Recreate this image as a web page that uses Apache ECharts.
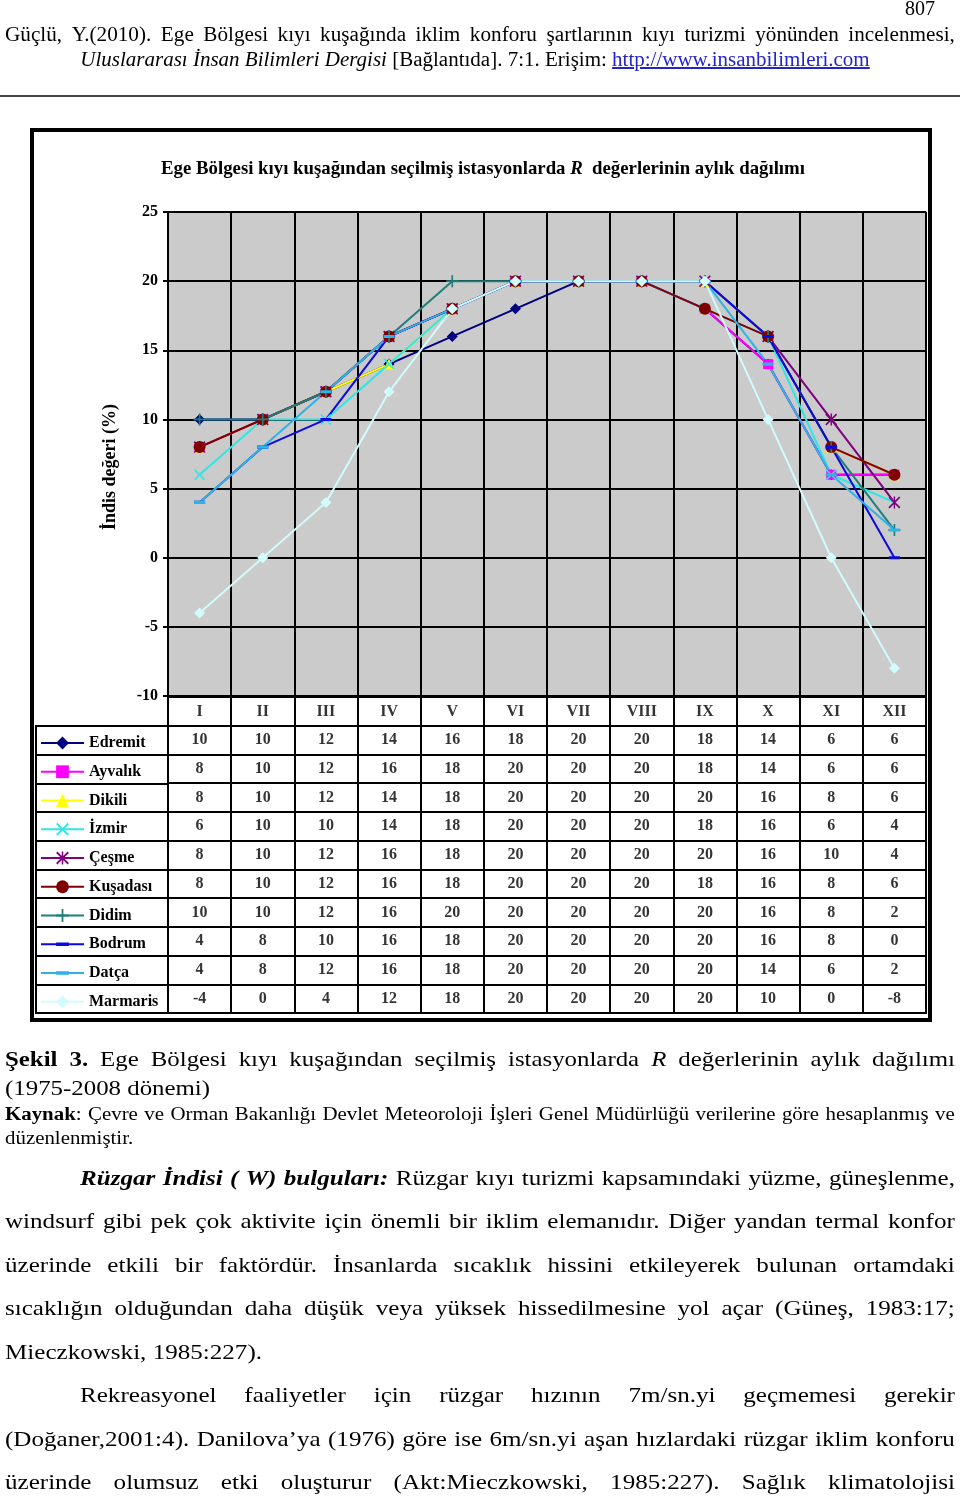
<!DOCTYPE html>
<html><head><meta charset="utf-8">
<script src="https://cdn.jsdelivr.net/npm/echarts@6/dist/echarts.min.js"></script>
<style>
html,body{margin:0;padding:0}
body{width:960px;height:1496px;position:relative;background:#fff;overflow:hidden;font-family:"Liberation Serif","Times New Roman",serif;color:#000}
#chart{position:absolute;left:0;top:0;width:960px;height:1496px}
.ln{position:absolute;left:5px;width:950px;white-space:nowrap;z-index:2;transform-origin:0 50%}
.jl{display:flex;justify-content:space-between}
a{color:#2424c8;text-decoration:underline}
</style></head>
<body>
<div id="chart"></div>
<div id="txt"></div>
<script>
// ---------- data ----------
const months = ['I','II','III','IV','V','VI','VII','VIII','IX','X','XI','XII'];
const stations = ['Edremit','Ayvalık','Dikili','İzmir','Çeşme','Kuşadası','Didim','Bodrum','Datça','Marmaris'];
const edremit  = [10,10,12,14,16,18,20,20,18,14,6,6];
const ayvalik  = [8,10,12,16,18,20,20,20,18,14,6,6];
const dikili   = [8,10,12,14,18,20,20,20,20,16,8,6];
const izmir    = [6,10,10,14,18,20,20,20,18,16,6,4];
const cesme    = [8,10,12,16,18,20,20,20,20,16,10,4];
const kusadasi = [8,10,12,16,18,20,20,20,18,16,8,6];
const didim    = [10,10,12,16,20,20,20,20,20,16,8,2];
const bodrum   = [4,8,10,16,18,20,20,20,20,16,8,0];
const datca    = [4,8,12,16,18,20,20,20,20,14,6,2];
const marmaris = [-4,0,4,12,18,20,20,20,20,10,0,-8];
const yMin = -10, yMax = 25, yStep = 5;
const chartTitle = 'Ege Bölgesi kıyı kuşağından seçilmiş istasyonlarda ';
const chartTitleR = 'R';
const chartTitleEnd = '  değerlerinin aylık dağılımı';
const yTitle = 'İndis değeri (%)';

// ---------- styles ----------
const values = [edremit, ayvalik, dikili, izmir, cesme, kusadasi, didim, bodrum, datca, marmaris];
const colors = ['#000080','#FF00FF','#FFFF00','#2EE6E6','#800080','#800000','#1F7F7A','#0A0AE0','#2DB3E6','#D2FBFB'];
const P_X = 'path://M1,0 L5,4 L9,0 L10,1 L6,5 L10,9 L9,10 L5,6 L1,10 L0,9 L4,5 L0,1 Z';
const P_STAR = 'path://M1,0 L5,4 L9,0 L10,1 L6,5 L10,9 L9,10 L5,6 L1,10 L0,9 L4,5 L0,1 Z M4.4,0 H5.6 V10 H4.4 Z';
const P_PLUS = 'path://M4.3,0 H5.7 V4.3 H10 V5.7 H5.7 V10 H4.3 V5.7 H0 V4.3 H4.3 Z';
const P_DASH = 'path://M0,0 L0.01,0 L0,0.01 Z M10,10 L9.99,10 L10,9.99 Z M0,3.6 H10 V6.4 H0 Z';
const symbols = ['diamond','rect','triangle',P_X,P_STAR,'circle',P_PLUS,P_DASH,P_DASH,'diamond'];
const symSizes = [11,10,11,11,12,12,12,11,11,11];
const FONT = '"Liberation Serif","Times New Roman",serif';

const lineSeries = stations.map((s,i)=>({
  name: s, type:'line', xAxisIndex:0, yAxisIndex:0,
  data: values[i], symbol: symbols[i], symbolSize: symSizes[i],
  showAllSymbol: true,
  itemStyle:{color: colors[i]},
  lineStyle:{color: colors[i], width:2},
  emphasis:{disabled:true}, animation:false
}));

const cellData = [];
stations.forEach((s,i)=>values[i].forEach((v,m)=>cellData.push([months[m], s, v])));
const headData = months.map(m=>[m,'hdr',m]);

const cellLabel = {show:true, position:'inside', color:'#000', fontFamily:FONT, fontWeight:'bold', fontSize:16,
  formatter: p=>String(p.value[2])};

const option = {
  animation:false,
  backgroundColor:'transparent',
  grid:[
    {left:168, top:212, width:758, height:484, show:true, backgroundColor:'#CBCBCB', borderColor:'#8a8a8a', borderWidth:1.5, containLabel:false},
    {left:168, top:697, width:758, height:316, show:true, backgroundColor:'#fff', borderColor:'#000', borderWidth:2},
    {left:36, top:726, width:132, height:287, show:true, backgroundColor:'#fff', borderColor:'#000', borderWidth:2}
  ],
  xAxis:[
    {type:'category', gridIndex:0, data:months, boundaryGap:true,
     axisLabel:{show:false}, axisTick:{show:false},
     axisLine:{show:true, lineStyle:{color:'#000', width:2}},
     splitLine:{show:true, interval:0, lineStyle:{color:'#000', width:2}}},
    {type:'category', gridIndex:1, data:months, boundaryGap:true,
     axisLabel:{show:false}, axisTick:{show:false}, axisLine:{show:false},
     splitLine:{show:true, interval:0, lineStyle:{color:'#000', width:2}}},
    {type:'category', gridIndex:2, data:['c'], boundaryGap:true, show:false}
  ],
  yAxis:[
    {type:'value', gridIndex:0, min:yMin, max:yMax, interval:yStep,
     axisLine:{show:true, lineStyle:{color:'#000', width:2}},
     axisTick:{show:true, length:5, lineStyle:{color:'#000', width:2}},
     axisLabel:{color:'#000', fontFamily:FONT, fontWeight:'bold', fontSize:16, margin:10},
     splitLine:{show:true, lineStyle:{color:'#000', width:2}}},
    {type:'category', gridIndex:1, data:['hdr'].concat(stations), inverse:true, boundaryGap:true,
     axisLabel:{show:false}, axisTick:{show:false}, axisLine:{show:false},
     splitLine:{show:true, interval:0, lineStyle:{color:'#000', width:2}}},
    {type:'category', gridIndex:2, data:stations, inverse:true, boundaryGap:true,
     axisLabel:{show:false}, axisTick:{show:false}, axisLine:{show:false},
     splitLine:{show:true, interval:0, lineStyle:{color:'#000', width:2}}}
  ],
  legend:{
    data:stations, orient:'vertical', left:35, top:730, padding:5,
    itemWidth:43, itemHeight:16, itemGap:12.75, selectedMode:false,
    textStyle:{color:'#000', fontFamily:FONT, fontWeight:'bold', fontSize:16, lineHeight:16}
  },
  series: lineSeries.concat([
    {type:'scatter', xAxisIndex:1, yAxisIndex:1, data:cellData, symbolSize:0, silent:true, label:cellLabel, animation:false},
    {type:'scatter', xAxisIndex:1, yAxisIndex:1, data:headData, symbolSize:0, silent:true, label:cellLabel, animation:false}
  ]),
  graphic:[
    {type:'rect', shape:{x:32, y:130, width:898, height:890}, style:{fill:'none', stroke:'#000', lineWidth:4}, silent:true, z:-1},
    {type:'text', x:483, y:169, silent:true,
     style:{text:'{b|'+chartTitle+'}{i|'+chartTitleR+'}{b|'+chartTitleEnd+'}', align:'center', verticalAlign:'middle',
       rich:{b:{fontFamily:FONT, fontWeight:'bold', fontSize:18.8, fill:'#000'},
             i:{fontFamily:FONT, fontWeight:'bold', fontStyle:'italic', fontSize:18.8, fill:'#000'}}}},
    {type:'text', x:110, y:467, rotation:Math.PI/2, silent:true,
     style:{text:yTitle, align:'center', verticalAlign:'middle', fontFamily:FONT, fontWeight:'bold', fontSize:18, fill:'#000'}}
  ]
};
const chart = echarts.init(document.getElementById('chart'), null, {renderer:'canvas'});
chart.setOption(option);

// ---------- page text ----------
const txt = document.getElementById('txt');
function mk(y, h, fs, cls, k, left, width){
  k = k || 1; left = (left==null) ? 5 : left; width = (width==null) ? 950 : width;
  const d = document.createElement('div');
  d.className = 'ln' + (cls ? ' '+cls : '');
  d.style.top = (y - h/2) + 'px'; d.style.height = h+'px'; d.style.lineHeight = h+'px'; d.style.fontSize = fs+'px';
  d.style.left = left + 'px'; d.style.width = (width / k) + 'px';
  if (k !== 1) d.style.transform = 'scaleX(' + k + ')';
  txt.appendChild(d); return d;
}
function addSegs(el, segs){
  segs.forEach(([t,st])=>{const s=document.createElement('span'); s.textContent=t; if(st) s.style.cssText=st; el.appendChild(s);});
}
function jline(y, h, fs, k, segs, indent){
  indent = indent || 0;
  const d = mk(y, h, fs, 'jl', k, 5+indent, 950-indent);
  const words=[]; let cur=null;
  segs.forEach(([t,st])=>{
    t.split(' ').forEach((p,i)=>{
      if(i>0){ if(cur&&cur.length) words.push(cur); cur=null; }
      if(p.length){ if(!cur) cur=[]; cur.push([p,st]); }
    });
  });
  if(cur&&cur.length) words.push(cur);
  words.forEach(w=>{const s=document.createElement('span'); addSegs(s,w); d.appendChild(s);});
  return d;
}
function pline(y, h, fs, k, segs, indent){
  indent = indent || 0;
  const d = mk(y, h, fs, '', k, 5+indent, 950-indent);
  addSegs(d, segs); return d;
}
const B='font-weight:bold', I='font-style:italic', BI='font-weight:bold;font-style:italic';

// header
const pn = mk(8, 22, 20, '', 1, 880, 55); pn.style.textAlign='right'; pn.textContent='807';
jline(34, 24, 20, 1.06, [['Güçlü, Y.(2010). Ege Bölgesi kıyı kuşağında iklim konforu şartlarının kıyı turizmi yönünden incelenmesi,']]);
const h2 = mk(59, 24, 20, '', 1.05, 0, 950); h2.style.textAlign='center';
addSegs(h2, [['Uluslararası İnsan Bilimleri Dergisi', I], [' [Bağlantıda]. 7:1. Erişim: ']]);
const a = document.createElement('a'); a.textContent='http://www.insanbilimleri.com'; h2.appendChild(a);
const hr = document.createElement('div'); hr.style.cssText='position:absolute;left:0;top:95px;width:960px;height:2px;background:#444';
txt.appendChild(hr);

// caption
jline(1059, 26, 22, 1.13, [['Şekil 3.', B], [' Ege Bölgesi kıyı kuşağından seçilmiş istasyonlarda '], ['R', I], [' değerlerinin aylık dağılımı']]);
pline(1088, 26, 22, 1.13, [['(1975-2008 dönemi)']]);
jline(1114, 22, 18, 1.16, [['Kaynak', B], [': Çevre ve Orman Bakanlığı Devlet Meteoroloji İşleri Genel Müdürlüğü verilerine göre hesaplanmış ve']]);
pline(1138, 22, 18, 1.16, [['düzenlenmiştir.']]);

// paragraphs
const PK = 1.14;
jline(1178, 28, 22, PK, [['Rüzgar İndisi ( W) bulguları:', BI], [' Rüzgar kıyı turizmi kapsamındaki yüzme, güneşlenme,']], 75);
jline(1221, 28, 22, PK, [['windsurf gibi pek çok aktivite için önemli bir iklim elemanıdır. Diğer yandan termal konfor']]);
jline(1265, 28, 22, PK, [['üzerinde etkili bir faktördür. İnsanlarda sıcaklık hissini etkileyerek bulunan ortamdaki']]);
jline(1308, 28, 22, PK, [['sıcaklığın olduğundan daha düşük veya yüksek hissedilmesine yol açar (Güneş, 1983:17;']]);
pline(1352, 28, 22, PK, [['Mieczkowski, 1985:227).']]);
jline(1395, 28, 22, PK, [['Rekreasyonel faaliyetler için rüzgar hızının 7m/sn.yi geçmemesi gerekir']], 75);
jline(1439, 28, 22, PK, [['(Doğaner,2001:4). Danilova’ya (1976) göre ise 6m/sn.yi aşan hızlardaki rüzgar iklim konforu']]);
jline(1482, 28, 22, PK, [['üzerinde olumsuz etki oluşturur (Akt:Mieczkowski, 1985:227). Sağlık klimatolojisi']]);
</script>
</body></html>
